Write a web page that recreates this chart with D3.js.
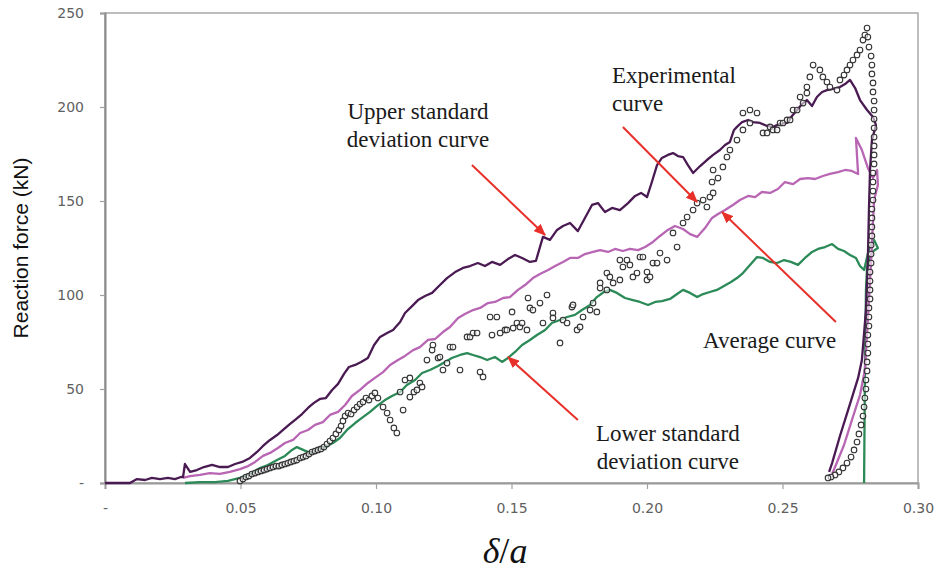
<!DOCTYPE html>
<html>
<head>
<meta charset="utf-8">
<script src="https://cdn.jsdelivr.net/npm/d3@7"></script>
<style>
  html, body { margin: 0; padding: 0; background: #fff; }
  svg { display: block; }
</style>
</head>
<body>
<svg id="chart" width="939" height="577"></svg>
<script>
// Axis ticks and their printed labels
const xTicks = [0, 0.05, 0.10, 0.15, 0.20, 0.25, 0.30];
const xTickLabels = ["-", "0.05", "0.10", "0.15", "0.20", "0.25", "0.30"];
const yTicks = [0, 50, 100, 150, 200, 250];
const yTickLabels = ["-", "50", "100", "150", "200", "250"];

// Upper standard deviation curve: [delta/a, force kN]
const upperCurve = [
  [0,0],[0.0092,0],[0.0118,2.1],[0.0148,1.6],[0.0173,2.7],[0.0203,2.1],[0.0232,2.7],[0.0258,2.1],[0.0280,3.2],
  [0.0288,3.2],[0.0295,10.1],[0.0314,5.9],[0.0339,6.9],[0.0365,8.5],[0.0395,9.6],[0.0424,8.5],[0.0454,8.5],
  [0.0480,10.1],[0.0506,11.2],[0.0535,13.3],[0.0561,16.5],[0.0583,19.7],[0.0609,22.9],[0.0635,25.5],[0.0657,28.2],
  [0.0683,31.4],[0.0705,34.0],[0.0727,36.7],[0.0749,39.9],[0.0771,42.6],[0.0793,44.7],[0.0815,45.2],[0.0838,49.5],
  [0.0860,52.7],[0.0882,58.0],[0.0900,61.7],[0.0923,62.8],[0.0945,64.4],[0.0970,66.5],[0.0993,73.4],[0.1015,77.7],
  [0.1041,79.8],[0.1063,81.4],[0.1089,85.6],[0.1107,90.4],[0.1133,94.1],[0.1155,97.3],[0.1181,99.5],[0.1207,101.1],
  [0.1236,105.3],[0.1262,109.0],[0.1292,112.2],[0.1321,114.4],[0.1347,115.4],[0.1376,117.0],[0.1402,115.4],
  [0.1428,117.6],[0.1458,116.0],[0.1487,119.1],[0.1513,121.3],[0.1539,119.7],[0.1568,117.6],[0.1590,118.1],
  [0.1616,130.9],[0.1642,129.3],[0.1668,134.6],[0.1690,136.7],[0.1716,138.3],[0.1745,134.0],[0.1771,141.0],
  [0.1797,147.9],[0.1819,148.9],[0.1845,144.1],[0.1871,146.3],[0.1900,145.2],[0.1930,148.9],[0.1956,152.7],
  [0.1978,154.3],[0.2000,152.1],[0.2018,160.1],[0.2037,169.1],[0.2055,172.9],[0.2077,174.5],[0.2096,175.5],
  [0.2114,173.9],[0.2133,173.4],[0.2151,169.1],[0.2170,164.9],[0.2196,168.6],[0.2221,171.8],[0.2244,174.5],
  [0.2269,177.1],[0.2288,179.8],[0.2306,181.4],[0.2321,187.8],[0.2332,189.4],[0.2351,192.0],[0.2373,193.1],
  [0.2391,192.0],[0.2417,191.5],[0.2443,189.9],[0.2465,189.4],[0.2491,191.0],[0.2517,191.5],[0.2535,195.2],
  [0.2554,198.4],[0.2572,201.6],[0.2590,203.7],[0.2609,200.5],[0.2627,205.3],[0.2646,208.0],[0.2664,209.0],
  [0.2686,209.6],[0.2712,210.6],[0.2731,212.2],[0.2749,214.4],[0.2768,210.1],[0.2786,203.7],[0.2812,198.4],
  [0.2834,194.7],[0.2845,190.4],[0.2830,182.4],[0.2823,166.5],[0.2819,145.2],[0.2815,118.6],[0.2808,92.0],
  [0.2793,65.4],[0.2779,55.9],[0.2742,38.8],[0.2712,25.0],[0.2683,10.6],[0.2672,5.9]
];

// Average curve
const averageCurve = [
  [0.0288,2.7],[0.0314,3.7],[0.0351,4.3],[0.0387,5.3],[0.0424,4.8],[0.0461,5.9],[0.0498,7.4],[0.0528,9.0],
  [0.0554,11.2],[0.0583,14.4],[0.0609,16.0],[0.0638,18.6],[0.0664,21.3],[0.0694,22.9],[0.0720,26.6],[0.0749,28.2],
  [0.0775,30.9],[0.0804,32.4],[0.0830,36.2],[0.0860,37.8],[0.0886,41.5],[0.0911,46.3],[0.0941,49.5],[0.0970,53.2],
  [0.0996,55.9],[0.1026,59.0],[0.1052,62.8],[0.1081,65.4],[0.1107,67.6],[0.1137,70.7],[0.1162,72.3],[0.1192,76.1],
  [0.1218,76.6],[0.1247,80.3],[0.1273,83.0],[0.1303,87.8],[0.1328,89.9],[0.1358,92.0],[0.1384,93.1],[0.1413,95.7],
  [0.1439,96.3],[0.1469,98.4],[0.1494,98.9],[0.1524,102.7],[0.1550,105.3],[0.1579,109.0],[0.1605,111.2],
  [0.1635,113.3],[0.1661,115.4],[0.1690,117.6],[0.1716,119.7],[0.1745,119.7],[0.1771,121.8],[0.1801,122.9],
  [0.1827,123.9],[0.1856,122.9],[0.1882,124.5],[0.1911,123.4],[0.1937,124.5],[0.1967,123.9],[0.1993,125.5],
  [0.2022,128.2],[0.2048,131.4],[0.2077,134.6],[0.2103,136.7],[0.2133,135.1],[0.2159,132.4],[0.2185,130.9],
  [0.2214,135.6],[0.2240,141.0],[0.2262,143.1],[0.2288,145.2],[0.2317,147.9],[0.2343,150.5],[0.2373,152.7],
  [0.2399,152.1],[0.2424,154.8],[0.2454,154.3],[0.2483,156.4],[0.2509,160.1],[0.2539,159.0],[0.2565,161.7],
  [0.2594,162.2],[0.2620,161.7],[0.2649,163.3],[0.2675,164.4],[0.2705,165.4],[0.2731,166.5],[0.2756,166.0],
  [0.2779,164.4],[0.2771,183.5],[0.2793,177.1],[0.2815,167.6],[0.2834,162.2],[0.2849,166.5],[0.2852,158.5],
  [0.2838,150.5],[0.2827,118.6],[0.2815,86.7],[0.2804,60.1],[0.2786,46.8],[0.2756,33.5],[0.2727,20.2],
  [0.2697,9.6],[0.2683,4.8]
];

// Lower standard deviation curve
const lowerCurve = [
  [0.0295,0],[0.0351,0.5],[0.0406,0.5],[0.0454,1.1],[0.0498,2.7],[0.0535,4.8],[0.0572,8.0],[0.0601,9.6],
  [0.0635,12.2],[0.0664,14.4],[0.0690,17.6],[0.0708,19.1],[0.0731,17.6],[0.0756,16.0],[0.0786,17.6],[0.0812,19.1],
  [0.0841,21.3],[0.0867,23.9],[0.0893,28.2],[0.0923,31.9],[0.0948,34.6],[0.0978,37.8],[0.1004,41.0],[0.1033,44.1],
  [0.1059,46.3],[0.1089,48.4],[0.1114,52.1],[0.1144,54.8],[0.1170,58.5],[0.1199,60.1],[0.1229,62.2],[0.1255,64.4],
  [0.1280,66.5],[0.1310,68.1],[0.1336,69.1],[0.1358,68.1],[0.1384,67.0],[0.1410,65.4],[0.1439,67.0],[0.1465,64.4],
  [0.1487,66.5],[0.1513,69.7],[0.1539,73.4],[0.1568,76.1],[0.1594,78.7],[0.1624,81.4],[0.1649,85.1],[0.1679,86.7],
  [0.1705,88.3],[0.1734,89.4],[0.1760,92.0],[0.1790,94.7],[0.1815,98.9],[0.1841,101.6],[0.1863,102.7],
  [0.1889,101.1],[0.1919,98.4],[0.1948,97.3],[0.1974,96.3],[0.2004,94.7],[0.2030,96.3],[0.2055,96.8],[0.2085,97.9],
  [0.2111,100.5],[0.2133,102.7],[0.2159,101.1],[0.2185,98.9],[0.2207,100.5],[0.2232,101.6],[0.2258,102.7],
  [0.2284,104.8],[0.2310,106.9],[0.2332,109.0],[0.2354,111.7],[0.2380,116.0],[0.2406,120.2],[0.2428,119.7],
  [0.2454,117.6],[0.2480,117.0],[0.2506,118.6],[0.2531,117.6],[0.2557,116.0],[0.2583,119.7],[0.2609,122.9],
  [0.2631,124.5],[0.2657,125.5],[0.2683,127.1],[0.2705,124.5],[0.2727,123.4],[0.2749,121.3],[0.2771,119.7],
  [0.2786,115.4],[0.2801,113.3],[0.2819,124.5],[0.2838,129.3],[0.2852,125.0],[0.2830,122.9],[0.2812,114.4],
  [0.2808,102.7],[0.2804,54.8],[0.2801,0]
];

// Experimental measurements (loading, then unloading branch)
const experimentalPoints = [
  [0.0498,1.1],[0.0509,2.1],[0.0520,3.2],[0.0531,3.7],[0.0542,4.8],[0.0554,5.3],[0.0565,5.9],[0.0576,6.4],
  [0.0587,6.9],[0.0598,7.4],[0.0609,8.0],[0.0620,8.5],[0.0631,9.0],[0.0642,9.0],[0.0653,9.6],[0.0664,10.1],
  [0.0675,10.6],[0.0686,11.2],[0.0697,11.7],[0.0708,12.2],[0.0720,13.3],[0.0731,13.8],[0.0742,14.4],[0.0753,15.4],
  [0.0764,16.5],[0.0775,17.0],[0.0786,17.6],[0.0797,18.1],[0.0808,19.1],[0.0819,20.7],[0.0830,22.3],[0.0841,23.9],
  [0.0852,26.1],[0.0863,28.2],[0.0871,30.3],[0.0878,33.0],[0.0886,35.6],[0.0897,37.2],[0.0908,36.7],[0.0919,38.8],
  [0.0930,40.4],[0.0941,42.0],[0.0952,43.1],[0.0963,45.2],[0.0974,44.1],[0.0985,46.3],[0.0996,47.9],[0.1007,45.2],
  [0.1026,40.4],[0.1041,37.2],[0.1052,33.5],[0.1066,29.3],[0.1077,26.6],[0.1089,48.4],[0.1100,38.8],[0.1107,54.8],
  [0.1125,55.9],[0.1125,45.7],[0.1140,48.4],[0.1151,49.5],[0.1162,53.2],[0.1170,51.1],[0.1188,65.4],[0.1207,70.7],
  [0.1210,73.4],[0.1229,66.5],[0.1236,67.0],[0.1247,60.1],[0.1262,63.8],[0.1273,72.3],[0.1284,72.3],[0.1310,60.1],
  [0.1336,77.7],[0.1347,77.7],[0.1358,79.8],[0.1373,79.8],[0.1384,59.0],[0.1395,56.4],[0.1421,88.3],[0.1428,78.7],
  [0.1446,88.3],[0.1458,79.8],[0.1476,81.4],[0.1483,81.4],[0.1502,91.0],[0.1506,82.4],[0.1520,85.1],[0.1531,83.0],
  [0.1539,85.1],[0.1557,81.4],[0.1561,98.4],[0.1568,93.1],[0.1579,92.0],[0.1605,95.7],[0.1616,85.1],[0.1631,100.0],
  [0.1653,90.4],[0.1653,87.8],[0.1679,74.5],[0.1690,86.7],[0.1705,85.1],[0.1723,93.6],[0.1727,94.7],[0.1742,81.4],
  [0.1753,83.0],[0.1764,88.3],[0.1790,92.0],[0.1801,95.7],[0.1815,91.0],[0.1827,106.4],[0.1827,103.7],[0.1852,111.7],
  [0.1852,102.7],[0.1863,109.6],[0.1875,106.4],[0.1900,108.0],[0.1900,118.6],[0.1911,114.9],[0.1926,118.6],
  [0.1937,116.0],[0.1948,109.6],[0.1963,111.7],[0.1974,120.2],[0.1985,120.2],[0.2000,112.2],[0.2000,108.0],
  [0.2011,109.6],[0.2022,117.0],[0.2037,117.0],[0.2048,122.3],[0.2074,118.6],[0.2096,133.0],[0.2111,125.5],
  [0.2133,138.3],[0.2148,141.5],[0.2170,145.2],[0.2185,148.9],[0.2207,150.5],[0.2221,146.8],[0.2232,152.1],
  [0.2244,154.3],[0.2240,160.1],[0.2262,162.2],[0.2244,166.5],[0.2280,168.1],[0.2295,173.4],[0.2306,177.1],
  [0.2332,182.4],[0.2354,187.8],[0.2380,191.5],[0.2354,196.8],[0.2380,198.4],[0.2406,196.8],[0.2428,186.2],
  [0.2443,186.2],[0.2454,189.4],[0.2465,187.8],[0.2480,187.8],[0.2491,191.5],[0.2502,191.5],[0.2517,193.1],
  [0.2528,193.1],[0.2539,198.4],[0.2554,198.4],[0.2565,205.3],[0.2576,202.1],[0.2590,207.4],[0.2590,210.6],
  [0.2601,216.0],[0.2613,222.3],[0.2638,219.7],[0.2649,216.0],[0.2664,213.3],[0.2675,210.6],[0.2701,209.0],
  [0.2712,214.4],[0.2727,217.0],[0.2738,219.7],[0.2749,222.3],[0.2760,225.0],[0.2775,227.7],[0.2786,230.3],
  [0.2797,235.6],[0.2804,238.3],[0.2812,242.0],
  [0.2815,237.2],[0.2819,231.9],[0.2827,227.1],[0.2830,222.3],[0.2830,217.6],[0.2834,212.8],[0.2834,208.0],
  [0.2838,203.2],[0.2838,198.4],[0.2838,193.6],[0.2838,188.8],[0.2838,184.0],[0.2838,179.3],[0.2838,174.5],
  [0.2838,169.7],[0.2834,164.9],[0.2834,160.1],[0.2834,155.3],[0.2834,150.5],[0.2830,145.7],[0.2830,141.0],
  [0.2830,136.2],[0.2830,131.4],[0.2827,126.6],[0.2827,121.8],[0.2827,117.0],[0.2823,112.2],[0.2823,107.4],
  [0.2823,102.7],[0.2823,97.9],[0.2819,93.1],[0.2819,88.3],[0.2819,83.5],[0.2815,78.7],[0.2815,73.9],
  [0.2815,69.1],[0.2812,64.4],[0.2812,59.6],[0.2808,54.8],[0.2808,50.0],[0.2804,45.2],[0.2801,40.4],
  [0.2797,35.6],[0.2790,30.9],[0.2782,26.1],[0.2775,21.8],[0.2764,17.6],[0.2753,13.8],[0.2738,10.6],
  [0.2723,8.0],[0.2708,5.9],[0.2694,4.3],[0.2679,3.2],[0.2668,2.7]
];

// Callout labels: text lines, anchor point [delta/a, kN], alignment
const callouts = [
  { lines: ["Upper standard", "deviation curve"], at: [0.1155, 193.6], anchor: "middle" },
  { lines: ["Experimental", "curve"], at: [0.1871, 212.8], anchor: "start" },
  { lines: ["Average curve"], at: [0.2207, 71.8], anchor: "start" },
  { lines: ["Lower standard", "deviation curve"], at: [0.2077, 22.3], anchor: "middle" }
];
// Callout arrows: from [delta/a, kN] to [delta/a, kN]
const arrows = [
  { from: [0.1354, 169.1], to: [0.1624, 131.9] },
  { from: [0.1911, 189.4], to: [0.2185, 149.5] },
  { from: [0.2697, 85.6], to: [0.2277, 144.1] },
  { from: [0.1745, 33.5], to: [0.1487, 67.0] }
];

const svg = d3.select("#chart");
const x = d3.scaleLinear().domain([0, 0.30]).range([105, 918]);
const y = d3.scaleLinear().domain([0, 250]).range([483, 13]);

// plot frame
svg.append("rect")
  .attr("x", x(0)).attr("y", y(250))
  .attr("width", x(0.30) - x(0)).attr("height", y(0) - y(250))
  .attr("fill", "none").attr("stroke", "#a8a8a8").attr("stroke-width", 1.5);

// axes
const xAxis = d3.axisBottom(x).tickValues(xTicks)
  .tickFormat((d, i) => xTickLabels[i]).tickSize(6).tickPadding(14);
const yAxis = d3.axisLeft(y).tickValues(yTicks)
  .tickFormat((d, i) => yTickLabels[i]).tickSize(5).tickPadding(16);

const gx = svg.append("g").attr("transform", `translate(0,${y(0)})`).call(xAxis);
const gy = svg.append("g").attr("transform", `translate(${x(0)},0)`).call(yAxis);
[gx, gy].forEach(g => {
  g.select(".domain").attr("stroke", "#8a8a8a").attr("stroke-width", 2);
  g.selectAll(".tick line").attr("stroke", "#a0a0a0").attr("stroke-width", 1.2);
  g.selectAll(".tick text")
    .attr("fill", "#606060")
    .style("font-family", "'DejaVu Sans', sans-serif")
    .style("font-size", "14px");
});
gx.select(".domain").attr("stroke", "#9a9a9a");

// curves
const line = d3.line().x(d => x(d[0])).y(d => y(d[1]));
const series = [
  { data: lowerCurve, color: "#2b8a57" },
  { data: averageCurve, color: "#b866b4" },
  { data: upperCurve, color: "#4a1a52" }
];
series.forEach(s => {
  svg.append("path").datum(s.data)
    .attr("d", line)
    .attr("fill", "none")
    .attr("stroke", s.color)
    .attr("stroke-width", 2.3)
    .attr("stroke-linejoin", "round");
});

// experimental markers
svg.append("g").selectAll("circle")
  .data(experimentalPoints)
  .join("circle")
  .attr("cx", d => x(d[0]))
  .attr("cy", d => y(d[1]))
  .attr("r", 2.8)
  .attr("fill", "#ffffff")
  .attr("fill-opacity", 0.55)
  .attr("stroke", "#333333")
  .attr("stroke-width", 1.1);

// callout arrows
const defs = svg.append("defs");
defs.append("marker")
  .attr("id", "arrowhead")
  .attr("viewBox", "0 0 12 10")
  .attr("refX", 11).attr("refY", 5)
  .attr("markerWidth", 12).attr("markerHeight", 10)
  .attr("markerUnits", "userSpaceOnUse")
  .attr("orient", "auto")
  .append("path")
  .attr("d", "M0,0 L12,5 L0,10 Z")
  .attr("fill", "#e8302a");

svg.append("g").selectAll("line")
  .data(arrows)
  .join("line")
  .attr("x1", d => x(d.from[0])).attr("y1", d => y(d.from[1]))
  .attr("x2", d => x(d.to[0])).attr("y2", d => y(d.to[1]))
  .attr("stroke", "#e8302a")
  .attr("stroke-width", 2)
  .attr("marker-end", "url(#arrowhead)");

// callout text
callouts.forEach(c => {
  const t = svg.append("text")
    .attr("x", x(c.at[0])).attr("y", y(c.at[1]))
    .attr("text-anchor", c.anchor)
    .style("font-family", "'Liberation Serif', 'Times New Roman', serif")
    .style("font-size", "23px")
    .attr("fill", "#1a1a1a");
  c.lines.forEach((ln, i) => {
    t.append("tspan").attr("x", x(c.at[0])).attr("dy", i === 0 ? 0 : 28).text(ln);
  });
});

// axis titles
svg.append("text")
  .attr("transform", `translate(28,${(y(0) + y(250)) / 2}) rotate(-90)`)
  .attr("text-anchor", "middle")
  .style("font-family", "'Liberation Sans', Arial, sans-serif")
  .style("font-size", "21px")
  .attr("fill", "#111")
  .text("Reaction force (kN)");

const xt = svg.append("text")
  .attr("x", 505).attr("y", 563)
  .attr("text-anchor", "middle")
  .style("font-family", "'Liberation Serif', 'Times New Roman', serif")
  .style("font-style", "italic")
  .style("font-size", "36px")
  .attr("fill", "#111");
xt.append("tspan").text("δ");
xt.append("tspan").style("font-style", "normal").text("/");
xt.append("tspan").text("a");
</script>
</body>
</html>
